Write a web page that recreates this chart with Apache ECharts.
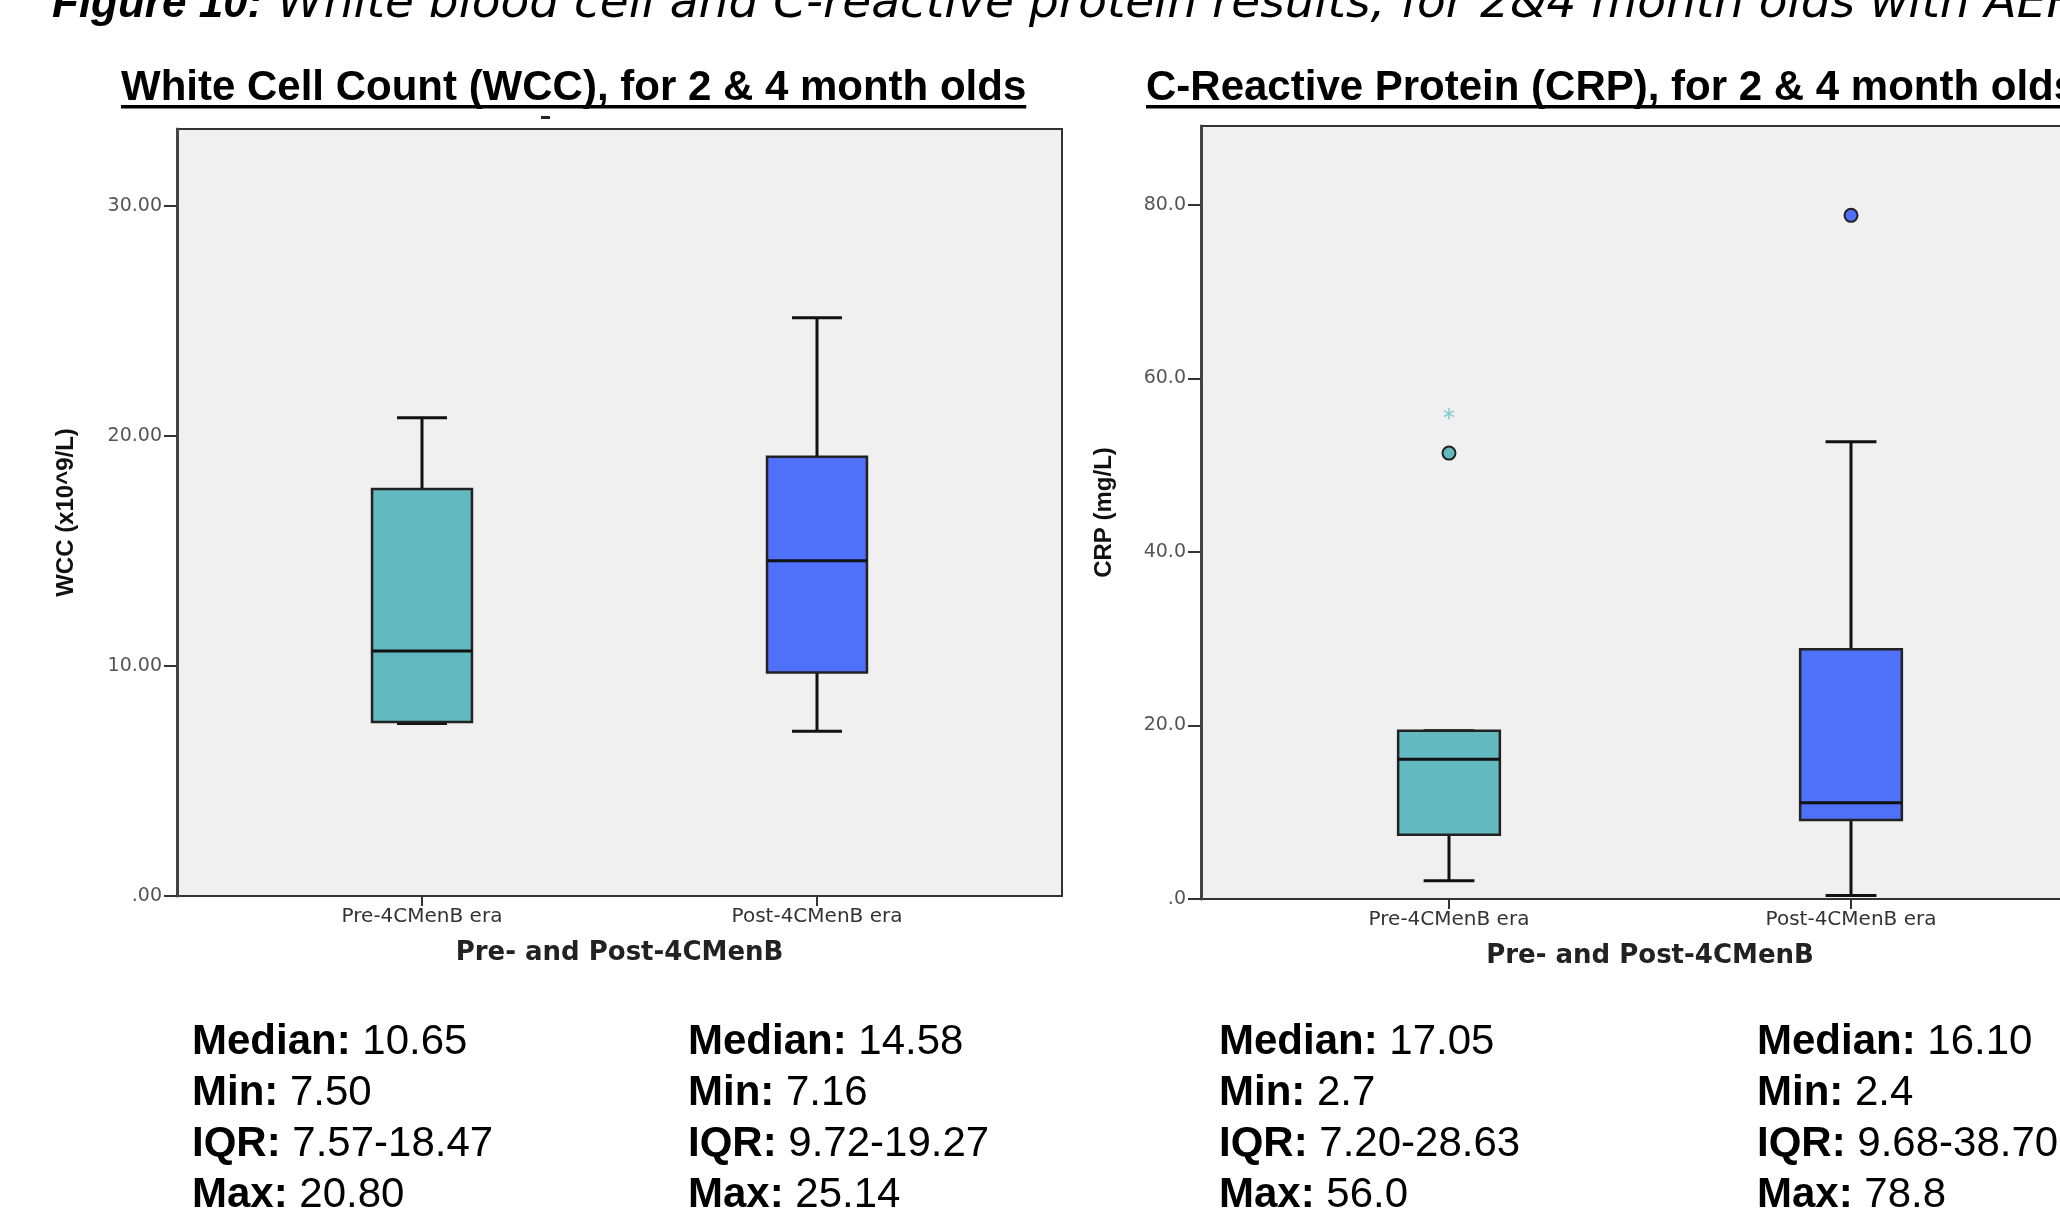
<!DOCTYPE html>
<html><head><meta charset="utf-8">
<script src="https://cdn.jsdelivr.net/npm/echarts@6/dist/echarts.min.js"></script>
<style>html,body{margin:0;padding:0;background:#fff;overflow:hidden}#c{width:2060px;height:1225px}</style>
</head><body><div id="c"></div>
<script>
// ---------- data ----------
const categories = ['Pre-4CMenB era', 'Post-4CMenB era'];
// [lower whisker, Q1, median, Q3, upper whisker] as drawn
const wccBoxes = [[7.50, 7.57, 10.65, 17.7, 20.80], [7.16, 9.72, 14.58, 19.1, 25.14]];
const crpBoxes = [[2.1, 7.4, 16.1, 19.4, 19.4], [0.4, 9.1, 11.1, 28.8, 52.7]];
const crpCircleOutliers = [[0, 51.4], [1, 78.8]];
const crpStarOutliers = [[0, 55.8]];
const wccTicks = [0, 10, 20, 30];
const crpTicks = [0, 20, 40, 60, 80];
const captionBold = 'Figure 10:';
const captionRest = ' White blood cell and C-reactive protein results, for 2&4 month olds with AEFI';
const wccTitle = 'White Cell Count (WCC), for 2 & 4 month olds';
const crpTitle = 'C-Reactive Protein (CRP), for 2 & 4 month olds';
const wccAxisName = 'WCC (x10^9/L)';
const crpAxisName = 'CRP (mg/L)';
const xAxisName = 'Pre- and Post-4CMenB';
const statLabels = ['Median:', 'Min:', 'IQR:', 'Max:'];
const wccPreStats = ['10.65', '7.50', '7.57-18.47', '20.80'];
const wccPostStats = ['14.58', '7.16', '9.72-19.27', '25.14'];
const crpPreStats = ['17.05', '2.7', '7.20-28.63', '56.0'];
const crpPostStats = ['16.10', '2.4', '9.68-38.70', '78.8'];

// ---------- styles ----------
const boxColors = ['#63B9C0', '#4F71F9'];
const starColor = '#7CC8CE';
const FONT = 'Liberation Sans';

const chart = echarts.init(document.getElementById('c'), null, {renderer: 'canvas'});

function measure(text, font) {
  const ctx = document.createElement('canvas').getContext('2d');
  ctx.font = font;
  return ctx.measureText(text).width;
}

function boxRender(params, api) {
  const xi = api.value(0);
  const v = [1, 2, 3, 4, 5].map(i => api.value(i));
  const band = api.size([1, 0])[0];
  const bw = band * 0.253, cw = bw / 2;
  const p = val => api.coord([xi, val]);
  const lo = p(v[0]), q1 = p(v[1]), md = p(v[2]), q3 = p(v[3]), hi = p(v[4]);
  const cx = md[0];
  const ls = {stroke: '#111', lineWidth: 3};
  return {type: 'group', children: [
    {type: 'line', shape: {x1: cx, y1: hi[1], x2: cx, y2: q3[1]}, style: ls},
    {type: 'line', shape: {x1: cx, y1: q1[1], x2: cx, y2: lo[1]}, style: ls},
    {type: 'line', shape: {x1: cx - cw / 2, y1: hi[1], x2: cx + cw / 2, y2: hi[1]}, style: ls},
    {type: 'line', shape: {x1: cx - cw / 2, y1: lo[1], x2: cx + cw / 2, y2: lo[1]}, style: ls},
    {type: 'rect', shape: {x: cx - bw / 2, y: q3[1], width: bw, height: q1[1] - q3[1]},
      style: {fill: boxColors[xi], stroke: '#222', lineWidth: 2.5}},
    {type: 'line', shape: {x1: cx - bw / 2, y1: md[1], x2: cx + bw / 2, y2: md[1]}, style: {stroke: '#111', lineWidth: 3}}
  ]};
}
function circleRender(params, api) {
  const xi = api.value(0);
  const pt = api.coord([xi, api.value(1)]);
  return {type: 'circle', shape: {cx: pt[0], cy: pt[1], r: 6.5},
    style: {fill: boxColors[xi], stroke: '#222', lineWidth: 2}};
}
function starRender(params, api) {
  const pt = api.coord([api.value(0), api.value(1)]);
  return {type: 'text', x: pt[0], y: pt[1] + 5,
    style: {text: '*', fill: starColor, font: '24px "DejaVu Sans"', align: 'center', verticalAlign: 'middle'}};
}

const tickLabelStyle = {color: '#555', fontFamily: 'DejaVu Sans', fontSize: 19};

function frameGrid(left, top, width, height) {
  return {left, top, width, height, show: true, backgroundColor: '#F0F0F0', borderColor: '#333', borderWidth: 2,
    containLabel: false, outerBoundsMode: 'none'};
}
function dataGrid(left, top, width, height) {
  return {left, top, width, height, show: false, containLabel: false, outerBoundsMode: 'none'};
}
function catAxis(gi) {
  return {type: 'category', gridIndex: gi, data: categories, boundaryGap: true,
    axisLine: {show: false},
    axisTick: {show: true, alignWithLabel: true, length: 10, lineStyle: {color: '#333', width: 2}},
    axisLabel: {color: '#333', fontFamily: 'DejaVu Sans', fontSize: 20, margin: 11},
    name: xAxisName, nameLocation: 'middle', nameGap: 44,
    nameTextStyle: {fontFamily: 'DejaVu Sans', fontWeight: 'bold', fontSize: 26, color: '#222'}};
}
function valAxis(gi, max, ticks, dec, offset, name, gap) {
  return {type: 'value', gridIndex: gi, min: 0, max, offset,
    splitLine: {show: false},
    axisLine: {show: true, lineStyle: {color: '#444', width: 3}},
    axisTick: {show: true, length: 13, customValues: ticks, lineStyle: {color: '#333', width: 2}},
    axisLabel: Object.assign({customValues: ticks, margin: 15,
      formatter: val => val === 0 ? '.' + '0'.repeat(dec) : val.toFixed(dec)}, tickLabelStyle),
    name, nameLocation: 'middle', nameGap: gap, nameRotate: 90,
    nameTextStyle: {fontFamily: FONT, fontWeight: 'bold', fontSize: 24, color: '#111'}};
}
const hiddenX = gi => ({type: 'value', gridIndex: gi, show: false});
const hiddenY = gi => ({type: 'value', gridIndex: gi, show: false});

// ---------- texts ----------
const titleFont = 'bold 42px "' + FONT + '"';
function titleGraphic(text, x, y) {
  const w = measure(text, titleFont);
  return [
    {type: 'text', left: x, top: y - 21, style: {text, font: titleFont, fill: '#000'}},
    {type: 'rect', shape: {x: x, y: y + 17, width: w, height: 3.5}, style: {fill: '#000'}}
  ];
}
function statsGraphic(values, x, yTop) {
  const lines = statLabels.map((l, i) => '{b|' + l + '} ' + values[i]).join('\n');
  return {type: 'text', left: x, top: yTop, style: {
    text: lines, font: '42px "' + FONT + '"', fill: '#000', lineHeight: 51,
    rich: {b: {fontWeight: 'bold', fontSize: 42, fontFamily: FONT, lineHeight: 51}}}};
}

const graphics = [
  {type: 'text', left: 52, top: -19, style: {
    text: '{b|' + captionBold + '}{i|' + captionRest + '}',
    rich: {b: {fontStyle: 'italic', fontWeight: 'bold', fontSize: 44, fontFamily: FONT, fill: '#000'},
           i: {fontStyle: 'italic', fontSize: 47, fontFamily: 'DejaVu Sans', fill: '#000'}}}},
  ...titleGraphic(wccTitle, 121, 88),
  ...titleGraphic(crpTitle, 1146, 88),
  {type: 'rect', shape: {x: 541, y: 116, width: 9, height: 3}, style: {fill: '#222'}},
  statsGraphic(wccPreStats, 192, 1017),
  statsGraphic(wccPostStats, 688, 1017),
  statsGraphic(crpPreStats, 1219, 1017),
  statsGraphic(crpPostStats, 1757, 1017)
];

const option = {
  animation: false,
  backgroundColor: '#fff',
  grid: [
    frameGrid(177, 129, 885, 767),
    dataGrid(224.5, 129, 790, 767),
    frameGrid(1201, 126, 898, 773),
    dataGrid(1248, 126, 804, 773)
  ],
  xAxis: [hiddenX(0), catAxis(1), hiddenX(2), catAxis(3)],
  yAxis: [hiddenY(0), valAxis(1, 33.35, wccTicks, 2, 47.5, wccAxisName, 99),
          hiddenY(2), valAxis(3, 89.1, crpTicks, 1, 47, crpAxisName, 85)],
  series: [
    {type: 'custom', xAxisIndex: 1, yAxisIndex: 1, renderItem: boxRender,
      data: wccBoxes.map((b, i) => [i, ...b]), encode: {x: 0, y: [1, 2, 3, 4, 5]}, z: 3},
    {type: 'custom', xAxisIndex: 3, yAxisIndex: 3, renderItem: boxRender,
      data: crpBoxes.map((b, i) => [i, ...b]), encode: {x: 0, y: [1, 2, 3, 4, 5]}, z: 3},
    {type: 'custom', xAxisIndex: 3, yAxisIndex: 3, renderItem: circleRender,
      data: crpCircleOutliers, encode: {x: 0, y: 1}, z: 4},
    {type: 'custom', xAxisIndex: 3, yAxisIndex: 3, renderItem: starRender,
      data: crpStarOutliers, encode: {x: 0, y: 1}, z: 4}
  ],
  graphic: graphics
};
chart.setOption(option);
</script></body></html>
